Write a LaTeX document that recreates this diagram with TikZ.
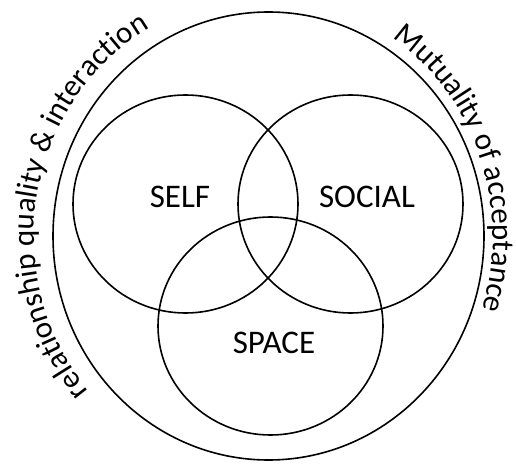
\documentclass[tikz,border=0pt]{standalone}
\usepackage{fontspec}
\setmainfont{Carlito}
\usetikzlibrary{positioning, decorations.text}
\newcommand{\arcfont}{\fontsize{31}{37}\selectfont}
\tikzset{ring/.style={draw, line width=1.6pt},
         label_text/.style={font=\fontsize{33}{39}\selectfont},
         arc_text/.style={decorate, decoration={text along path, text align=center, text={#1}}}
        }

\begin{document}
\begin{tikzpicture}[x=1pt, y=1pt]
\useasboundingbox (0,0) rectangle (516,466);
\coordinate (whole) at (268.5,230);
\coordinate (rim) at (263,230);

% the three circles and the one round them
\draw[ring](whole) ellipse [x radius=215.5pt, y radius=224pt];
\draw[ring](185.5,262) ellipse [x radius=112.5pt, y radius=109pt];
\draw[ring](350.5,262) ellipse [x radius=112.5pt, y radius=109pt];
\draw[ring](270.5,140) ellipse [x radius=112.5pt, y radius=109pt];

\node[label_text](self) at (180,269){SELF};
\node[label_text](social) at (367,269){SOCIAL};
\node[label_text](space) at (274,123){SPACE};

% texts along the rim
\path[arc_text={|\arcfont|relationship quality {\&} interaction}]
  (rim) ++(226:229pt and 239pt) arc [start angle=226, end angle=114, x radius=229pt, y radius=239pt];
\path[arc_text={|\arcfont|Mutuality of acceptance}]
  (rim) ++(62:230pt and 240pt) arc [start angle=62, end angle=-24, x radius=230pt, y radius=240pt];

\end{tikzpicture}
\end{document}
